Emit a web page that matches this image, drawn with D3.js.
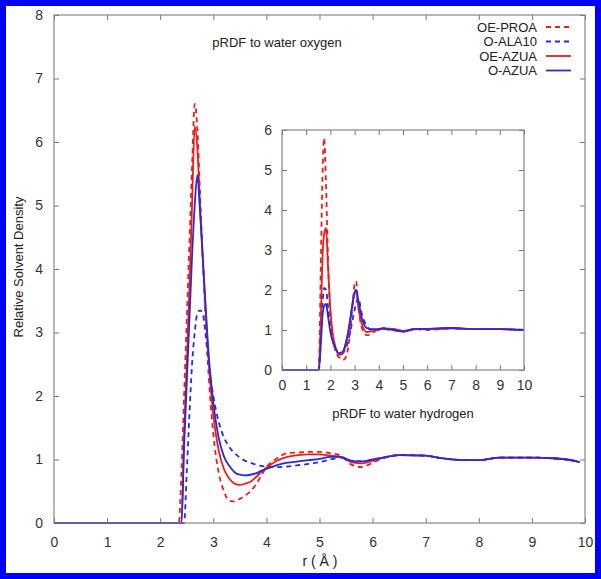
<!DOCTYPE html>
<html><head><meta charset="utf-8">
<script src="https://cdn.jsdelivr.net/npm/d3@7"></script>
<style>body{margin:0;background:#fff}svg{display:block}text{font-family:"Liberation Sans",Arial,sans-serif}</style>
</head><body><svg id="c" width="601" height="579"></svg>
<script>
// ---- Data ----
const seriesNames = ["OE-PROA", "O-ALA10", "OE-AZUA", "O-AZUA"];
const xTicks = [0,1,2,3,4,5,6,7,8,9,10];
const yTicksMain = [0,1,2,3,4,5,6,7,8];
const yTicksInset = [0,1,2,3,4,5,6];

// Main panel: pRDF to water oxygen
const rMain = [0,2.35,2.4,2.45,2.5,2.55,2.6,2.65,2.7,2.75,2.8,2.85,2.9,3.0,3.1,3.2,3.3,3.4,3.5,3.6,3.7,3.8,3.9,4.0,4.2,4.4,4.6,4.8,5.0,5.2,5.4,5.6,5.8,6.0,6.2,6.5,7.0,7.3,7.7,8.0,8.4,9.0,9.4,9.8,9.9];
const oePROA = [0,0,0.8,2.0,3.2,4.4,5.6,6.6,6.2,5.2,4.2,3.3,2.5,1.4,0.8,0.5,0.35,0.34,0.38,0.43,0.5,0.6,0.74,0.88,1.02,1.1,1.11,1.12,1.12,1.1,1.06,0.92,0.88,0.95,1.02,1.07,1.06,1.02,0.99,0.99,1.03,1.03,1.02,0.98,0.96];
const oALA10 = [0,0,0,0,0.8,1.7,2.5,3.0,3.3,3.35,3.3,3.0,2.6,2.0,1.6,1.35,1.2,1.1,1.03,0.98,0.95,0.92,0.9,0.89,0.88,0.89,0.91,0.93,0.96,1.0,1.03,0.98,0.97,1.0,1.03,1.07,1.06,1.02,0.99,0.99,1.03,1.03,1.02,0.98,0.96];
const oeAZUA = [0,0,0,1.4,2.5,3.7,5.0,6.25,5.9,5.0,4.2,3.4,2.7,1.7,1.15,0.85,0.7,0.62,0.6,0.62,0.65,0.72,0.8,0.87,0.98,1.04,1.07,1.08,1.08,1.06,1.04,0.96,0.94,0.98,1.03,1.07,1.06,1.02,0.99,0.99,1.03,1.03,1.02,0.98,0.96];
const oAZUA = [0,0,0,1.2,2.2,3.2,4.2,5.0,5.48,4.9,4.2,3.5,2.8,1.9,1.35,1.05,0.9,0.8,0.76,0.75,0.76,0.78,0.82,0.85,0.91,0.95,0.97,0.99,1.01,1.04,1.04,0.98,0.97,1.0,1.03,1.07,1.06,1.02,0.99,0.99,1.03,1.03,1.02,0.98,0.96];

// Inset: pRDF to water hydrogen
const rInset = [0,1.52,1.6,1.68,1.74,1.82,1.9,2.0,2.1,2.2,2.35,2.5,2.6,2.7,2.8,2.9,3.0,3.06,3.15,3.3,3.5,3.7,3.9,4.2,4.6,5.0,5.5,6.0,6.5,7.0,8.0,9.0,10.0];
const hPROA = [0,0,2.5,5.0,5.8,4.6,2.8,1.4,0.8,0.5,0.32,0.25,0.28,0.45,0.85,1.5,2.15,2.22,1.6,1.05,0.87,0.9,1.0,1.05,1.02,0.98,1.02,1.0,1.02,1.04,1.02,1.02,0.98];
const hALA10 = [0,0,0.7,1.7,2.05,2.0,1.6,1.05,0.75,0.55,0.45,0.42,0.5,0.65,0.9,1.2,1.5,1.65,1.8,1.4,1.1,1.0,1.0,1.02,1.0,0.96,1.02,1.02,1.03,1.04,1.02,1.02,1.0];
const hAZUA_E = [0,0,1.2,2.9,3.4,3.55,2.6,1.5,0.9,0.6,0.38,0.4,0.55,0.8,1.15,1.6,1.95,2.0,1.6,1.15,0.95,0.97,1.0,1.04,1.03,0.98,1.03,1.02,1.04,1.05,1.02,1.02,1.0];
const hAZUA_O = [0,0,0.6,1.4,1.6,1.65,1.35,0.95,0.7,0.55,0.42,0.45,0.6,0.85,1.2,1.6,1.92,2.0,1.75,1.3,1.05,1.02,1.02,1.03,1.0,0.96,1.02,1.03,1.04,1.05,1.02,1.02,1.0];

const colors = ["#ee1c1c","#2a2ad8","#ee1c1c","#2a2ad8"];
const dashes = ["5,4","5,4",null,null];

const svg = d3.select("#c");
svg.append("rect").attr("x",3).attr("y",3).attr("width",595).attr("height",573)
  .attr("fill","#fff").attr("stroke","#0000ff").attr("stroke-width",6);

function panel(xr, yr, yDom, yTicks, rs, ys, opts){
  const x = d3.scaleLinear().domain([0,10]).range(xr);
  const y = d3.scaleLinear().domain(yDom).range(yr);
  const g = svg.append("g");
  g.append("rect").attr("x",xr[0]).attr("y",yr[1]).attr("width",xr[1]-xr[0]).attr("height",yr[0]-yr[1])
    .attr("fill","#fff").attr("stroke","none");
  const styleAxis = a => { a.select(".domain").remove(); a.selectAll(".tick line").attr("stroke","#777"); a.selectAll("text").attr("fill","#333").attr("font-size",opts.fs); };
  g.append("g").attr("transform",`translate(0,${yr[0]})`).call(d3.axisBottom(x).tickValues(xTicks).tickSize(-5).tickPadding(opts.xpad).tickFormat(d3.format("d"))).call(styleAxis);
  g.append("g").attr("transform",`translate(0,${yr[1]})`).call(d3.axisTop(x).tickValues(xTicks).tickSize(-5).tickFormat("")).call(styleAxis);
  g.append("g").attr("transform",`translate(${xr[0]},0)`).call(d3.axisLeft(y).tickValues(yTicks).tickSize(-5).tickPadding(opts.ypad).tickFormat(d3.format("d"))).call(styleAxis);
  g.append("g").attr("transform",`translate(${xr[1]},0)`).call(d3.axisRight(y).tickValues(yTicks).tickSize(-5).tickFormat("")).call(styleAxis);
  const line = d3.line().x((d,i)=>x(rs[i])).y(d=>y(d)).curve(d3.curveMonotoneX);
  ys.forEach((s,k)=>{
    g.append("path").attr("d",line(s)).attr("fill","none").attr("stroke",colors[k])
      .attr("stroke-width",1.8).attr("stroke-dasharray",dashes[k]).attr("stroke-linejoin","round");
  });
  g.append("rect").attr("x",xr[0]).attr("y",yr[1]).attr("width",xr[1]-xr[0]).attr("height",yr[0]-yr[1])
    .attr("fill","none").attr("stroke","#888").attr("stroke-width",1.2);
  return {x,y};
}

panel([54,585],[523,15],[0,8],yTicksMain,rMain,[oePROA,oALA10,oeAZUA,oAZUA],{fs:14,xpad:14,ypad:11});
panel([282,524],[370,130],[0,6],yTicksInset,rInset,[hPROA,hALA10,hAZUA_E,hAZUA_O],{fs:14,xpad:10,ypad:10});

// texts
svg.append("text").attr("x",277).attr("y",47).attr("text-anchor","middle").attr("font-size",13).attr("fill","#222").text("pRDF to water oxygen");
svg.append("text").attr("x",403).attr("y",418).attr("text-anchor","middle").attr("font-size",13).attr("fill","#222").text("pRDF to water hydrogen");
svg.append("text").attr("x",320).attr("y",566).attr("text-anchor","middle").attr("font-size",14).attr("fill","#222").text("r ( Å )");
svg.append("text").attr("transform","translate(23,267) rotate(-90)").attr("text-anchor","middle").attr("font-size",13).attr("fill","#222").text("Relative Solvent Density");

// legend
const legY = [27,41.5,56,70.5];
seriesNames.forEach((n,i)=>{
  svg.append("text").attr("x",537).attr("y",legY[i]).attr("dy","0.35em").attr("text-anchor","end").attr("font-size",13).attr("fill","#222").text(n);
  svg.append("line").attr("x1",546).attr("x2",571).attr("y1",legY[i]).attr("y2",legY[i])
    .attr("stroke",colors[i]).attr("stroke-width",1.8).attr("stroke-dasharray",dashes[i]);
});
</script></body></html>
